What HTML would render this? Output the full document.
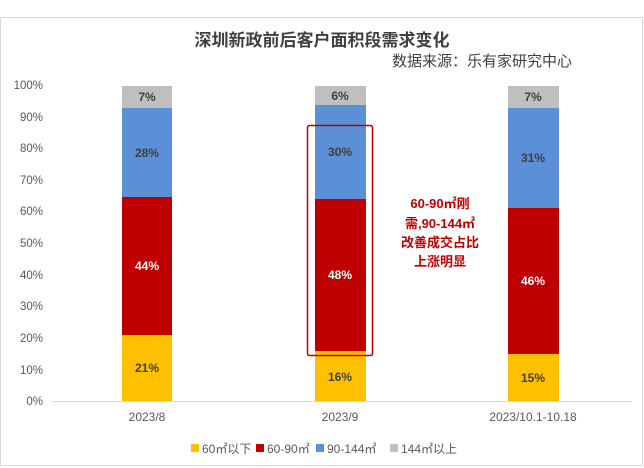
<!DOCTYPE html>
<html><head><meta charset="utf-8"><style>
body{margin:0;background:#fff;width:644px;height:468px;overflow:hidden}
svg{display:block;font-family:"Liberation Sans","Noto Sans CJK SC",sans-serif}
</style></head><body>
<svg width="644" height="468" viewBox="0 0 644 468">
<rect x="0.5" y="17.5" width="642" height="448" fill="#fff" stroke="#d9d9d9"/>
<text x="322" y="46" text-anchor="middle" font-size="17" font-weight="bold" fill="#404040">深圳新政前后客户面积段需求变化</text>
<text x="572" y="66" text-anchor="end" font-size="15" fill="#404040">数据来源：乐有家研究中心</text>
<g font-size="11.5" fill="#595959" text-anchor="end">
<text x="43" y="405">0%</text><text x="43" y="374">10%</text><text x="43" y="342">20%</text><text x="43" y="310">30%</text><text x="43" y="279">40%</text><text x="43" y="247">50%</text><text x="43" y="215">60%</text><text x="43" y="184">70%</text><text x="43" y="152">80%</text><text x="43" y="121">90%</text><text x="43" y="89">100%</text>
</g>
<line x1="52" y1="401.5" x2="632" y2="401.5" stroke="#d9d9d9"/>
<!-- bar1 -->
<rect x="122" y="335" width="50" height="66" fill="#FFC000"/>
<rect x="122" y="197" width="50" height="138" fill="#C00000"/>
<rect x="122" y="108" width="50" height="89" fill="#5B8FD6"/>
<rect x="122" y="86" width="50" height="22" fill="#BFBFBF"/>
<!-- bar2 -->
<rect x="315" y="351" width="51" height="50" fill="#FFC000"/>
<rect x="315" y="199" width="51" height="152" fill="#C00000"/>
<rect x="315" y="105" width="51" height="94" fill="#5B8FD6"/>
<rect x="315" y="86" width="51" height="19" fill="#BFBFBF"/>
<!-- bar3 -->
<rect x="508" y="354" width="51" height="47" fill="#FFC000"/>
<rect x="508" y="208" width="51" height="146" fill="#C00000"/>
<rect x="508" y="108" width="51" height="100" fill="#5B8FD6"/>
<rect x="508" y="86" width="51" height="22" fill="#BFBFBF"/>
<g font-size="12" font-weight="bold" text-anchor="middle">
<text x="147" y="372" fill="#404040">21%</text>
<text x="147" y="270" fill="#fff">44%</text>
<text x="147" y="157" fill="#404040">28%</text>
<text x="147" y="101" fill="#404040">7%</text>
<text x="340" y="381" fill="#404040">16%</text>
<text x="340" y="279" fill="#fff">48%</text>
<text x="340" y="156" fill="#404040">30%</text>
<text x="340" y="100" fill="#404040">6%</text>
<text x="533" y="382" fill="#404040">15%</text>
<text x="533" y="285" fill="#fff">46%</text>
<text x="533" y="162" fill="#404040">31%</text>
<text x="533" y="101" fill="#404040">7%</text>
</g>
<rect x="307.5" y="125.5" width="65" height="230" fill="none" stroke="#C00000" stroke-width="1.5" rx="2"/>
<g font-size="13" font-weight="bold" fill="#C00000" text-anchor="middle">
<text x="440" y="208">60-90㎡刚</text>
<text x="440" y="228">需,90-144㎡</text>
<text x="440" y="247">改善成交占比</text>
<text x="440" y="266">上涨明显</text>
</g>
<g font-size="12" fill="#595959" text-anchor="middle">
<text x="147" y="421">2023/8</text>
<text x="340" y="421">2023/9</text>
<text x="533" y="421">2023/10.1-10.18</text>
</g>
<g font-size="12" fill="#595959">
<rect x="191" y="444" width="8" height="8" fill="#FFC000"/><text x="202" y="453">60㎡以下</text>
<rect x="256" y="444" width="8" height="8" fill="#C00000"/><text x="267" y="453">60-90㎡</text>
<rect x="316" y="444" width="8" height="8" fill="#5B8FD6"/><text x="327" y="453">90-144㎡</text>
<rect x="390" y="444" width="8" height="8" fill="#BFBFBF"/><text x="401" y="453">144㎡以上</text>
</g>
</svg>
</body></html>
